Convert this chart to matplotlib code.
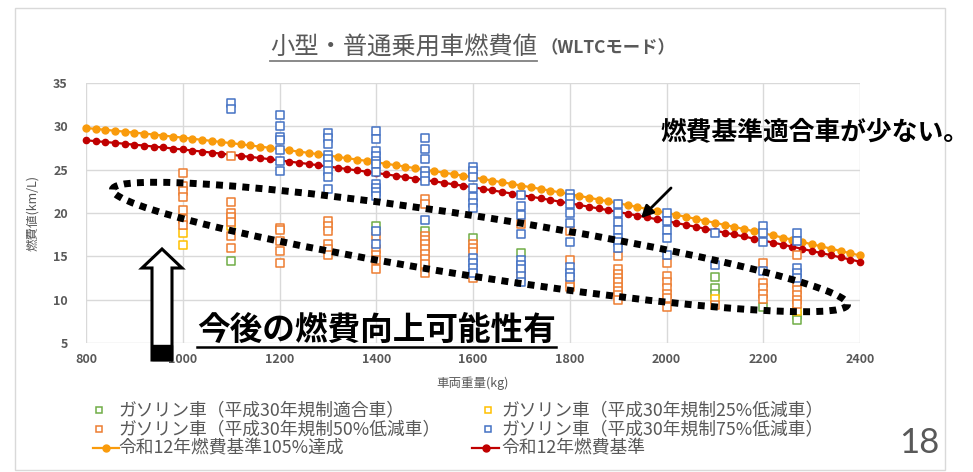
import matplotlib
matplotlib.use('Agg')
import matplotlib.pyplot as plt
from matplotlib.patches import Ellipse, Polygon, Rectangle
from matplotlib.lines import Line2D

plt.rcParams['font.family'] = ['Noto Sans CJK JP', 'DejaVu Sans']

W, H = 973, 472

# measured cars: vehicle weight (kg) -> fuel economy values (km/L)
green_pts = {1100: [14.5], 1400: [18.5], 1500: [17.9, 13.8], 1600: [17.1],
             1700: [15.4], 2100: [12.6, 11.3, 10.7], 2200: [9.1], 2270: [8.2, 7.6]}
yellow_pts = {1000: [17.7, 16.3], 1100: [18.5], 2100: [10.1], 2270: [8.7]}
orange_pts = {
    1000: [24.6, 23.1, 22.5, 21.9, 20.4, 19.3, 18.6],
    1100: [26.6, 21.3, 20.0, 19.5, 19.0, 17.3, 16.0],
    1200: [18.3, 18.0, 16.8, 15.6, 14.2],
    1300: [19.1, 18.5, 17.9, 16.4, 15.8, 15.1],
    1400: [17.3, 15.8, 15.2, 14.6, 13.5],
    1500: [21.6, 21.0, 17.4, 16.9, 16.4, 15.9, 15.3, 14.7, 14.1, 13.1],
    1600: [16.4, 16.0, 15.5, 12.5],
    1700: [18.7, 13.1],
    1800: [17.9, 14.6, 11.9, 11.5],
    1900: [15.0, 13.5, 13.0, 12.5, 12.0, 11.5, 11.0, 10.5, 10.0],
    2000: [14.2, 12.7, 12.0, 11.3, 10.7, 10.2, 9.2],
    2100: [9.4],
    2200: [14.2, 11.9, 11.3, 10.7, 10.1],
    2270: [15.1, 11.8, 11.1, 10.5, 10.0, 9.5],
}
blue_pts = {
    1100: [32.7, 32.0],
    1200: [31.3, 30.0, 28.8, 28.4, 27.3, 26.0, 24.8],
    1300: [29.2, 28.6, 28.0, 26.7, 26.2, 25.5, 24.8, 24.2, 22.8],
    1400: [29.5, 28.5, 27.1, 26.6, 26.0, 25.7, 24.7, 23.3, 22.9, 22.4, 22.0, 17.9, 16.4],
    1500: [28.6, 27.4, 26.2, 24.9, 24.3, 23.7, 19.2],
    1600: [25.3, 24.8, 24.1, 22.9, 21.8, 21.2, 20.6, 14.8, 14.2, 13.6, 13.1],
    1700: [22.1, 20.8, 19.8, 17.6, 14.6, 14.0, 13.5, 12.7, 12.0],
    1800: [22.2, 21.7, 21.0, 20.0, 18.9, 16.7, 13.8, 13.1, 12.6],
    1900: [21.0, 20.0, 19.0, 18.0, 17.1, 16.6, 16.0],
    2000: [20.0, 19.1, 18.0, 17.1, 15.2],
    2100: [17.7, 14.0],
    2200: [18.5, 17.7, 16.7, 13.3],
    2270: [17.7, 16.8, 13.6, 13.1, 12.5],
}

# 2030 standard curve, sampled every 20 kg
std_kg = list(range(800, 2401, 20))
std_kmpl = [28.39, 28.29, 28.19, 28.09, 27.99, 27.88, 27.78, 27.67, 27.56, 27.44,
            27.33, 27.21, 27.09, 26.97, 26.85, 26.72, 26.60, 26.47, 26.34, 26.21,
            26.07, 25.93, 25.80, 25.66, 25.51, 25.37, 25.22, 25.07, 24.92, 24.77,
            24.62, 24.46, 24.30, 24.14, 23.98, 23.81, 23.65, 23.48, 23.31, 23.14,
            22.96, 22.79, 22.61, 22.43, 22.25, 22.06, 21.88, 21.69, 21.50, 21.31,
            21.11, 20.92, 20.72, 20.52, 20.32, 20.11, 19.91, 19.70, 19.49, 19.28,
            19.07, 18.85, 18.63, 18.41, 18.19, 17.97, 17.74, 17.52, 17.29, 17.05,
            16.82, 16.59, 16.35, 16.11, 15.87, 15.62, 15.38, 15.13, 14.88, 14.63,
            14.38]
std105_kmpl = [29.81, 29.70, 29.60, 29.49, 29.39, 29.27, 29.17, 29.05, 28.94, 28.81,
               28.70, 28.57, 28.44, 28.32, 28.19, 28.06, 27.93, 27.79, 27.66, 27.52,
               27.37, 27.23, 27.09, 26.94, 26.79, 26.64, 26.48, 26.32, 26.17, 26.01,
               25.85, 25.68, 25.52, 25.35, 25.18, 25.00, 24.83, 24.65, 24.48, 24.30,
               24.11, 23.93, 23.74, 23.55, 23.36, 23.16, 22.97, 22.77, 22.58, 22.38,
               22.17, 21.97, 21.76, 21.55, 21.34, 21.12, 20.91, 20.69, 20.46, 20.24,
               20.02, 19.79, 19.56, 19.33, 19.10, 18.87, 18.63, 18.40, 18.15, 17.90,
               17.66, 17.42, 17.17, 16.92, 16.66, 16.40, 16.15, 15.89, 15.62, 15.36,
               15.10]

scatter_labels = ['ガソリン車（平成30年規制適合車）', 'ガソリン車（平成30年規制25%低減車）',
                  'ガソリン車（平成30年規制50%低減車）', 'ガソリン車（平成30年規制75%低減車）']
line_labels = ['令和12年燃費基準105%達成', '令和12年燃費基準']

GREEN, YELLOW, ORANGE, BLUE = '#70AD47', '#FFC000', '#ED7D31', '#4472C4'
LINE_ORANGE, LINE_RED = '#F99B0C', '#C00000'
GRAY = '#595959'


def fx(x):
    return x / W


def fy(y):
    return 1 - y / H


fig = plt.figure(figsize=(W / 100, H / 100), dpi=100)
fig.add_artist(Rectangle((fx(15), fy(470)), fx(945) - fx(15), fy(8) - fy(470),
                         transform=fig.transFigure, fill=False, ec='#d9d9d9', lw=1))

ax = fig.add_axes([fx(86), fy(343), fx(860) - fx(86), fy(83) - fy(343)])
ax.set_xlim(800, 2400)
ax.set_ylim(5, 35)
ax.set_xticks(range(800, 2401, 200))
ax.set_yticks(range(5, 36, 5))
ax.grid(color='#d9d9d9', lw=1)
ax.set_axisbelow(True)
for s in ax.spines.values():
    s.set_visible(False)
ax.tick_params(length=0, labelsize=9, labelcolor=GRAY)
ax.tick_params(axis='y', pad=13)
ax.tick_params(axis='x', pad=7)
for lab in ax.get_xticklabels() + ax.get_yticklabels():
    lab.set_fontweight('bold')
ax.set_xlabel('車両重量(kg)', fontsize=9, color=GRAY, labelpad=8)
ax.set_ylabel('燃費値(km/L)', fontsize=9, color=GRAY, labelpad=10)

ax.plot(std_kg, std105_kmpl, color=LINE_ORANGE, lw=1.6, marker='o', ms=5, zorder=2, clip_on=False)
ax.plot(std_kg, std_kmpl, color=LINE_RED, lw=1.6, marker='o', ms=4.5, zorder=2, clip_on=False)

for pts, c in [(green_pts, GREEN), (yellow_pts, YELLOW), (orange_pts, ORANGE), (blue_pts, BLUE)]:
    xs = [k for k, v in pts.items() for _ in v]
    ys = [y for v in pts.values() for y in v]
    ax.scatter(xs, ys, marker='s', s=26, facecolors='white', edgecolors=c,
               linewidths=1.1, zorder=3)

# legend drawn by hand so the rows sit close together
rows = [410, 429, 448]
for (hx, tx, ry), lab, c in zip([(99, 118, rows[0]), (488, 501, rows[0]),
                                 (99, 118, rows[1]), (488, 501, rows[1])],
                                scatter_labels, [GREEN, YELLOW, ORANGE, BLUE]):
    fig.add_artist(Line2D([fx(hx)], [fy(ry)], transform=fig.transFigure, marker='s', ms=5,
                          mfc='white', mec=c, mew=1.1, ls='none'))
    fig.text(fx(tx), fy(ry), lab, fontsize=12.8, color=GRAY, va='center')
for (x0, x1, tx), lab, c in zip([(93, 119, 118), (472, 499, 501)], line_labels,
                                [LINE_ORANGE, LINE_RED]):
    fig.add_artist(Line2D([fx(x0), fx((x0 + x1) / 2), fx(x1)], [fy(rows[2])] * 3,
                          transform=fig.transFigure, color=c, lw=1.6, marker='o', ms=5,
                          markevery=[1]))
    fig.text(fx(tx), fy(rows[2]), lab, fontsize=12.8, color=GRAY, va='center')

# title with underline on the main part
t1 = fig.text(fx(270), fy(47), '小型・普通乗用車燃費値', fontsize=17.5, color=GRAY, va='center')
renderer = fig.canvas.get_renderer()
bb = t1.get_window_extent(renderer)
fig.text(bb.x1 / W + 0.004, fy(48), '（WLTCモード）', fontsize=12.5, weight='bold', color=GRAY,
         va='center')
fig.add_artist(Line2D([bb.x0 / W, bb.x1 / W], [fy(61)] * 2, transform=fig.transFigure,
                      color='#808080', lw=1.3))

# dotted ellipse around the low-efficiency cluster
fig.add_artist(Ellipse((4.80, 2.25), 7.44, 0.60, angle=-8.9, transform=fig.dpi_scale_trans,
                       fill=False, ec='black', lw=5, ls=(0, (1, 0.9)), capstyle='butt',
                       zorder=5))

# hollow up arrow
arrow_px = [(162, 249), (182, 268), (172, 268), (172, 360), (152, 360), (152, 268), (142, 268)]
fig.add_artist(Polygon([(fx(x), fy(y)) for x, y in arrow_px], closed=True,
                       transform=fig.transFigure, fc='white', ec='black', lw=2.2, zorder=6))
fig.add_artist(Rectangle((fx(152), fy(360)), fx(172) - fx(152), fy(345) - fy(360),
                         transform=fig.transFigure, fc='black', ec='black', lw=1, zorder=6))

# small pointer arrow
ax.annotate('', xy=(639, H - 220), xycoords='figure pixels', xytext=(673, H - 186),
            textcoords='figure pixels',
            arrowprops=dict(arrowstyle='-|>', color='black', lw=2, mutation_scale=18))

fig.text(fx(660), fy(133), '燃費基準適合車が少ない。', fontsize=18.5, weight='bold', color='black',
         va='center')

t2 = fig.text(fx(197), fy(330), '今後の燃費向上可能性有', fontsize=23.5, weight='bold',
              color='black', va='center', zorder=7)
bb2 = t2.get_window_extent(renderer)
fig.add_artist(Line2D([bb2.x0 / W, bb2.x1 / W], [fy(347)] * 2, transform=fig.transFigure,
                      color='black', lw=1.8, zorder=7))

fig.text(fx(919), fy(443), '18', fontsize=25, color='#595959', ha='center', va='center',
         family=['Lato', 'DejaVu Sans'])

fig.savefig('out.png', dpi=100)
